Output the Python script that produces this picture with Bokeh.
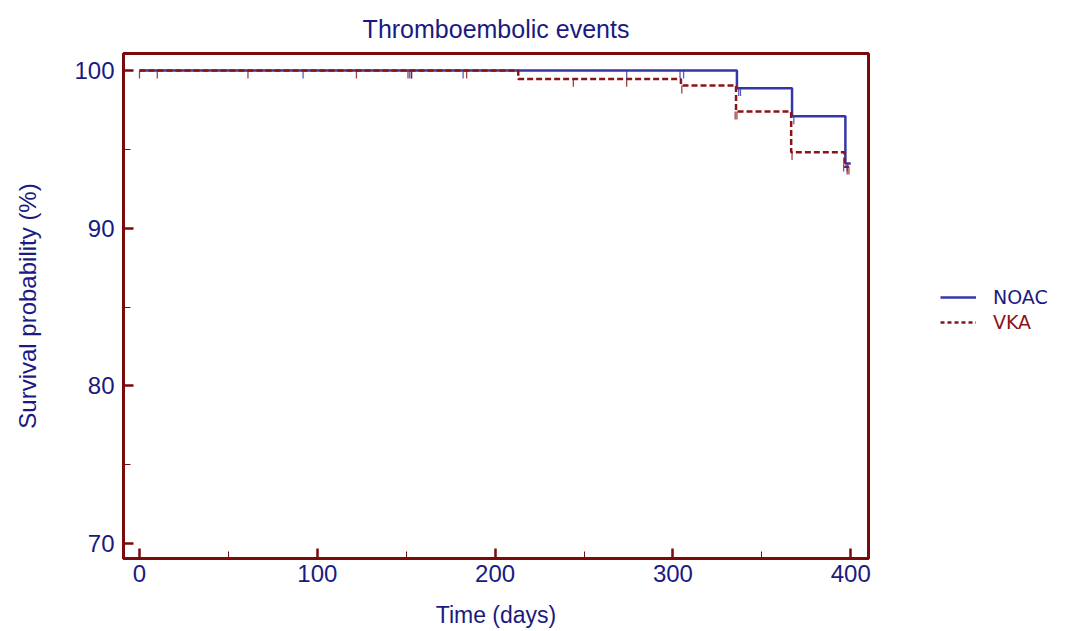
from bokeh.plotting import figure
from bokeh.layouts import row
from bokeh.models import Range1d, Legend, LegendItem, FixedTicker
from bokeh.embed import file_html
from bokeh.resources import INLINE

# ---- data ----
noac_time = [0, 336, 367, 397, 400]
noac_surv = [100, 98.88, 97.1, 94.1, 94.1]
vka_time = [0, 213, 304.5, 335.5, 366.5, 396.5, 399]
vka_surv = [100, 99.47, 99.05, 97.4, 94.82, 93.9, 93.9]

noac_cens_time = [92, 152, 153, 182, 274, 304, 306, 337, 338, 368, 396, 398]
noac_cens_surv = [100, 100, 100, 100, 100, 100, 100, 98.88, 98.88, 97.1, 94.1, 94.1]
vka_cens_time = [0, 10, 61, 122, 151, 153, 184, 244, 274, 305, 335, 336, 367, 398, 399]
vka_cens_surv = [100, 100, 100, 100, 100, 100, 100, 99.47, 99.47, 99.05, 97.4, 97.4, 94.82, 93.9, 93.9]

x_ticks = [0, 100, 200, 300, 400]
x_minor = [50, 150, 250, 350]
y_ticks = [70, 80, 90, 100]
y_minor = [75, 85, 95]

series_labels = ["NOAC", "VKA"]

NAVY = "#1a1a80"
BLUE = "#3636a8"
DARKRED = "#7b0a0a"
VKA_RED = "#8b1515"
FONT = "Liberation Sans"

p = figure(width=900, height=631, output_backend="svg", toolbar_location=None,
           x_range=Range1d(-9, 410), y_range=Range1d(69.05, 101.08),
           min_border_left=123, min_border_right=32, min_border_top=53,
           min_border_bottom=73)

p.title.text = "Thromboembolic events"
p.title.align = "center"
p.title.text_color = NAVY
p.title.text_font = FONT
p.title.text_font_size = "25px"
p.title.text_font_style = "normal"
p.title.standoff = 22

p.xgrid.visible = False
p.ygrid.visible = False
p.outline_line_color = DARKRED
p.outline_line_width = 3
p.background_fill_color = "white"
p.border_fill_color = "white"

for ax, ticks, minor in ((p.xaxis[0], x_ticks, x_minor), (p.yaxis[0], y_ticks, y_minor)):
    ax.ticker = FixedTicker(ticks=ticks, minor_ticks=minor)
    ax.axis_line_color = DARKRED
    ax.axis_line_width = 3
    ax.major_tick_line_color = DARKRED
    ax.major_tick_line_width = 2.5
    ax.major_tick_in = 10
    ax.major_tick_out = 0
    ax.minor_tick_line_color = DARKRED
    ax.minor_tick_line_width = 1
    ax.minor_tick_in = 7
    ax.minor_tick_out = 0
    ax.major_label_text_color = NAVY
    ax.major_label_text_font = FONT
    ax.major_label_text_font_size = "24px"
    ax.axis_label_text_color = NAVY
    ax.axis_label_text_font = FONT
    ax.axis_label_text_font_size = "23px"
    ax.axis_label_text_font_style = "normal"

p.yaxis.axis_label_text_font_size = "24px"
p.xaxis.axis_label = "Time (days)"
p.yaxis.axis_label = "Survival probability (%)"
p.xaxis.major_label_standoff = 6
p.yaxis.major_label_standoff = 9
p.xaxis.axis_label_standoff = 17
p.yaxis.axis_label_standoff = 30

r_noac = p.step(noac_time, noac_surv, mode="after", line_color=BLUE, line_width=2.5)
r_vka = p.step(vka_time, vka_surv, mode="after", line_color=VKA_RED, line_width=2.5,
               line_dash="6 3")

tick_len = 0.5
p.segment(x0=noac_cens_time, x1=noac_cens_time, y0=noac_cens_surv,
          y1=[s - tick_len for s in noac_cens_surv], line_color=BLUE, line_width=1.3,
          line_alpha=0.8)
p.segment(x0=vka_cens_time, x1=vka_cens_time, y0=vka_cens_surv,
          y1=[s - tick_len for s in vka_cens_surv], line_color=VKA_RED, line_width=1.3,
          line_alpha=0.8)

# ---- legend panel ----
q = figure(width=150, height=631, output_backend="svg", toolbar_location=None,
           x_range=Range1d(0, 1), y_range=Range1d(0, 1),
           min_border_left=0, min_border_right=0, min_border_top=0, min_border_bottom=0)
q.axis.visible = False
q.grid.visible = False
q.outline_line_color = None
q.border_fill_color = "white"
q.background_fill_color = "white"
# legend-only renderers (their points lie outside the visible range)
ln_noac = q.line([5, 6], [5, 6], line_color=BLUE, line_width=2.5)
ln_vka = q.line([5, 6], [5, 6], line_color=VKA_RED, line_width=2.5, line_dash="4 3")

def make_legend(label, r, color, y):
    return Legend(items=[LegendItem(label=label, renderers=[r])], location=(40, y),
                  border_line_color=None, background_fill_alpha=0,
                  label_text_color=color, label_text_font="DejaVu Sans",
                  label_text_font_size="19px", glyph_width=36, glyph_height=20,
                  label_standoff=17, label_height=20, padding=0, margin=0)

q.add_layout(make_legend(series_labels[0], ln_noac, NAVY, 250))
q.add_layout(make_legend(series_labels[1], ln_vka, VKA_RED, 225))

open("out.html", "w").write(file_html(row(p, q), INLINE))
